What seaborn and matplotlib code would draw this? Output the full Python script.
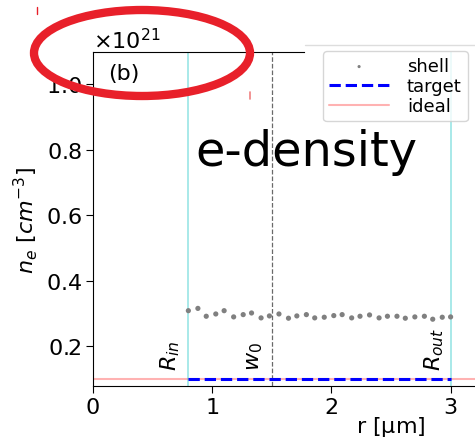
import numpy as np
import matplotlib
matplotlib.use('Agg')
import matplotlib.pyplot as plt
from matplotlib.patches import Ellipse
from matplotlib.lines import Line2D
from matplotlib.ticker import ScalarFormatter
import seaborn as sns

# shell density samples (units of 1e21 cm^-3)
r_shell = [0.80, 0.88, 0.95, 1.03, 1.10, 1.18, 1.26, 1.33, 1.41, 1.48,
           1.56, 1.64, 1.71, 1.79, 1.86, 1.94, 2.02, 2.09, 2.17, 2.24,
           2.32, 2.40, 2.47, 2.55, 2.62, 2.70, 2.78, 2.85, 2.93, 3.00]
ne_shell = [0.308, 0.315, 0.291, 0.298, 0.308, 0.289, 0.296, 0.301, 0.286, 0.292,
            0.298, 0.285, 0.292, 0.296, 0.286, 0.288, 0.293, 0.296, 0.286, 0.291,
            0.295, 0.286, 0.291, 0.291, 0.285, 0.289, 0.291, 0.282, 0.288, 0.289]
ne_target = 0.1
ne_ideal = 0.1
R_in, w0, R_out = 0.8, 1.5, 3.0
x_ticks = [0, 1, 2, 3]
y_ticks = [0.2, 0.4, 0.6, 0.8, 1.0]

sns.set_style('ticks')
plt.rcParams['font.family'] = ['DejaVu Sans']
plt.rcParams.update({'text.color': 'black', 'axes.labelcolor': 'black',
                     'xtick.color': 'black', 'ytick.color': 'black',
                     'axes.edgecolor': 'black'})

fig = plt.figure(figsize=(4.75, 4.39), dpi=100)
# original axes extends past the right border of the picture
ax = fig.add_axes([93 / 475, 52 / 439, 596 / 475, 334 / 439])

sns.scatterplot(x=np.array(r_shell), y=np.array(ne_shell) * 1e21, ax=ax, s=14,
                color='gray', edgecolor='none', label='shell', zorder=3)
ax.plot([R_in, R_out], [ne_target * 1e21] * 2, color='blue', ls='--', lw=2.2,
        label='target', zorder=4)
ax.axhline(ne_ideal * 1e21, color='red', alpha=0.3, lw=1.5, label='ideal')

ax.axvline(R_in, color='c', alpha=0.4, lw=1.2)
ax.axvline(R_out, color='c', alpha=0.4, lw=1.2)
ax.axvline(w0, color='dimgray', ls='--', lw=0.9)

ax.text(R_in - 0.05, 0.128e21, r'$R_{in}$', rotation=90, ha='right', va='bottom', fontsize=16)
ax.text(w0 - 0.06, 0.128e21, r'$w_0$', rotation=90, ha='right', va='bottom', fontsize=16)
ax.text(R_out - 0.04, 0.128e21, r'$R_{out}$', rotation=90, ha='right', va='bottom', fontsize=16)

ax.text(0.13, 1.035e21, '(b)', fontsize=16, ha='left', va='center')
ax.text(0.86, 0.752e21, 'e-density', fontsize=34.5, ha='left', va='baseline')

ax.set_xlim(0, 5)
ax.set_ylim(0.078e21, 1.098e21)
ax.set_xticks(x_ticks)
ax.set_yticks(np.array(y_ticks) * 1e21)
fmt = ScalarFormatter(useMathText=True)
fmt.set_powerlimits((0, 0))
ax.yaxis.set_major_formatter(fmt)
ax.tick_params(labelsize=16, length=5, pad=3)
ax.yaxis.get_offset_text().set_fontsize(16)
ax.set_xlabel(r'r [$\mathrm{\mu}$m]', fontsize=16, labelpad=-2)
ax.set_ylabel(r'$n_e$ [$cm^{-3}$]', fontsize=16)
ax.spines['top'].set_bounds(0, 1.77)

ax.legend(loc='upper right', bbox_to_anchor=(468 / 475, 387 / 439),
          bbox_transform=fig.transFigure, borderaxespad=0, fontsize=13,
          handlelength=3.3, markerscale=0.6, labelspacing=0.1,
          borderpad=0.35, handletextpad=1.0)

# light edge line at the top right and the red markup
fig.add_artist(Line2D([305 / 475, 1.0], [393 / 439, 393 / 439], color='#dddddd', lw=1))
fig.add_artist(Ellipse((142 / 475, 1 - 54 / 439), 216 / 475, 86 / 439, fill=False,
                       edgecolor='#e8202a', lw=6, transform=fig.transFigure))
fig.add_artist(Line2D([37 / 475, 37 / 475], [1 - 8 / 439, 1 - 15 / 439], color='#e8202a', lw=1))
fig.add_artist(Line2D([250 / 475, 250 / 475], [1 - 93 / 439, 1 - 100 / 439], color='#f08080', lw=1.2))

fig.savefig('out.png', dpi=100)
